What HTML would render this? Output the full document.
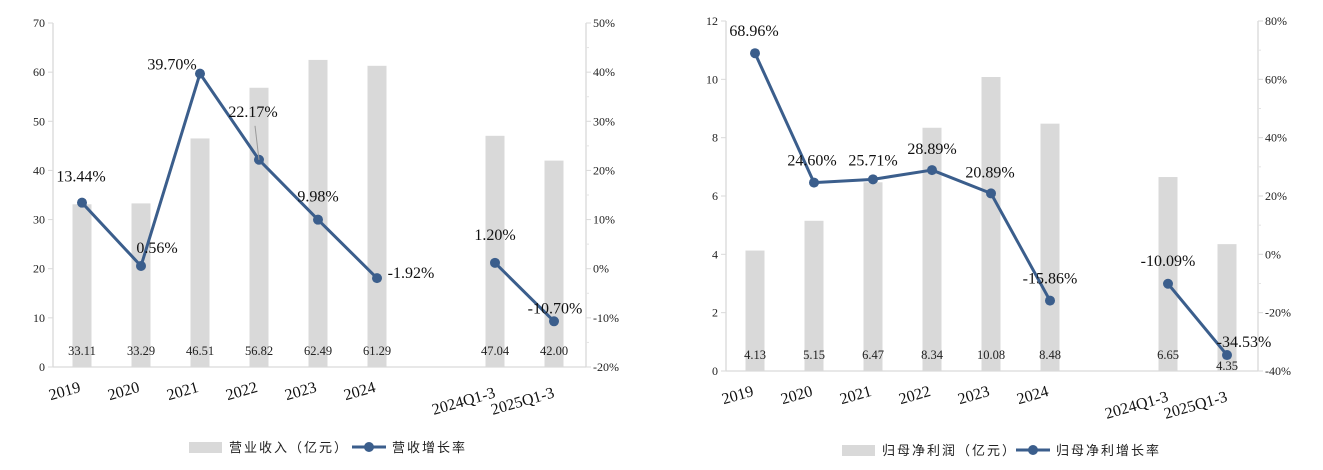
<!DOCTYPE html>
<html><head><meta charset="utf-8"><style>
body{margin:0;background:#fff;}
svg{display:block;font-family:"Liberation Serif","Noto Serif CJK SC",serif;}
</style></head><body>
<svg id="chart" width="1323" height="470" viewBox="0 0 1323 470"></svg>
<script>
const categories = ["2019","2020","2021","2022","2023","2024","2024Q1-3","2025Q1-3"];
const slotIndex = [0,1,2,3,4,5,7,8];
const revenue = [33.11,33.29,46.51,56.82,62.49,61.29,47.04,42.00];
const revenueGrowth = [13.44,0.56,39.70,22.17,9.98,-1.92,1.20,-10.70];
const profit = [4.13,5.15,6.47,8.34,10.08,8.48,6.65,4.35];
const profitGrowth = [68.96,24.60,25.71,28.89,20.89,-15.86,-10.09,-34.53];
const leftTicks1 = [0,10,20,30,40,50,60,70];
const rightTicks1 = [-20,-10,0,10,20,30,40,50];
const leftTicks2 = [0,2,4,6,8,10,12];
const rightTicks2 = [-40,-20,0,20,40,60,80];

const NS="http://www.w3.org/2000/svg";
const svg=document.getElementById('chart');
function mk(tag,attrs,parent,text){const e=document.createElementNS(NS,tag);for(const k in attrs)e.setAttribute(k,attrs[k]);if(text!==undefined)e.textContent=text;(parent||svg).appendChild(e);return e;}

function drawChart(cfg){
  const g=mk('g',{});
  
  
  const yL=v=>cfg.y0-(v-cfg.lMin)/(cfg.lMax-cfg.lMin)*(cfg.y0-cfg.y1);
  const yR=v=>cfg.y0-(v-cfg.rMin)/(cfg.rMax-cfg.rMin)*(cfg.y0-cfg.y1);
  const xS=i=>cfg.x0+slotIndex[i]*cfg.step;
  // axes
  const la=mk('line',{x1:cfg.ax,y1:cfg.y1,x2:cfg.ax,y2:cfg.y0,stroke:'#d9d9d9','stroke-width':1.3},g);
  
  const ra=mk('line',{x1:cfg.rx,y1:cfg.y1,x2:cfg.rx,y2:cfg.y0,stroke:'#d9d9d9','stroke-width':1.3},g);
  
  const xa=mk('line',{x1:cfg.ax,y1:cfg.y0,x2:cfg.rx,y2:cfg.y0,stroke:'#d9d9d9','stroke-width':1.3},g);
  
  cfg.lt.forEach(v=>{const y=yL(v);
    mk('line',{x1:cfg.ax-5,y1:y,x2:cfg.ax,y2:y,stroke:'#d9d9d9'},g);
    const t=mk('text',{x:cfg.ax-8,y:y+4,'font-size':12,'text-anchor':'end',fill:'#222'},g,String(v));
    });
  for(let k=0;k<cfg.rt.length;k++){const v=cfg.rt[k];const y=yR(v);
    mk('line',{x1:cfg.rx,y1:y,x2:cfg.rx+5,y2:y,stroke:'#d9d9d9'},g);
    if(k<cfg.rt.length-1){const ym=(y+yR(cfg.rt[k+1]))/2;mk('line',{x1:cfg.rx,y1:ym,x2:cfg.rx+3,y2:ym,stroke:'#e4e4e4'},g);}
    const t=mk('text',{x:cfg.rx+7,y:y+4,'font-size':12,fill:'#222'},g,v+'%');
    }
  // bars
  cfg.bars.forEach((v,i)=>{const x=xS(i);
    const b=mk('rect',{x:x-9.5,y:yL(v),width:19,height:cfg.y0-yL(v),fill:'#d9d9d9'},g);
    });
  // bar labels
  cfg.bars.forEach((v,i)=>{const x=xS(i);let y=cfg.barLabelY;
    if(cfg.lowIdx===i)y=cfg.barLabelLowY;
    const t=mk('text',{x:x,y:y,'font-size':12.5,'text-anchor':'middle',fill:'#222'},g,v.toFixed(2));
    });
  // x labels
  categories.forEach((c,i)=>{const x=xS(i);const long=c.length>4;
    const cx=x-(long?30:16), cy=cfg.y0+(long?39:29);
    const t=mk('text',{x:cx,y:cy,'font-size':16,'text-anchor':'middle',fill:'#111',transform:`rotate(-16 ${cx} ${cy})`},g,c);
    });
  // line
  const pts=cfg.line.map((v,i)=>xS(i)+','+yR(v));
  const p1=mk('polyline',{points:pts.slice(0,6).join(' '),fill:'none',stroke:'#3b5e8c','stroke-width':3,'stroke-linejoin':'round'},g);
  
  const p2=mk('polyline',{points:pts.slice(6).join(' '),fill:'none',stroke:'#3b5e8c','stroke-width':3},g);
  
  cfg.line.forEach((v,i)=>{const c=mk('circle',{cx:xS(i),cy:yR(v),r:5,fill:'#3b5e8c'},g);
    });
  cfg.line.forEach((v,i)=>{const o=cfg.off[i];
    const t=mk('text',{x:xS(i)+o[0],y:yR(v)+o[1],'font-size':16,'text-anchor':'middle',fill:'#111'},g,v.toFixed(2)+'%');
    });
  if(cfg.leader!==undefined){const i=cfg.leader;const x=xS(i),y=yR(cfg.line[i]);
    mk('line',{x1:x-4,y1:y-34,x2:x,y2:y,stroke:'#999','stroke-width':1},g);}
  // legend
  const lg=mk('g',{},g);
  mk('rect',{x:cfg.lgx,y:cfg.lgy-5,width:33,height:11,fill:'#d9d9d9'},lg);
  const t1=mk('text',{x:cfg.lgx+40,y:cfg.lgy+5,'font-size':13,fill:'#222','font-family':'"Noto Sans CJK SC",sans-serif','letter-spacing':2},lg,cfg.lg1);
  
  mk('line',{x1:cfg.lgx2,y1:cfg.lgy,x2:cfg.lgx2+34,y2:cfg.lgy,stroke:'#3b5e8c','stroke-width':3},lg);
  mk('circle',{cx:cfg.lgx2+17,cy:cfg.lgy,r:5,fill:'#3b5e8c'},lg);
  const t2=mk('text',{x:cfg.lgx2+40,y:cfg.lgy+5,'font-size':13,fill:'#222','font-family':'"Noto Sans CJK SC",sans-serif','letter-spacing':2},lg,cfg.lg2);
  
}

drawChart({name:'revenue-chart',ax:53,rx:586,x0:82,step:59,y0:367,y1:23,lMin:0,lMax:70,rMin:-20,rMax:50,
  lt:leftTicks1,rt:rightTicks1,bars:revenue,line:revenueGrowth,barLabelY:355,
  off:[[-1,-21],[16,-13],[-28,-4],[-6,-43],[0,-18],[34,0],[0,-23],[1,-8]],leader:3,
  lgx:189,lgy:447,lgx2:352,lg1:'营业收入（亿元）',lg2:'营收增长率'});
drawChart({name:'profit-chart',ax:726,rx:1258,x0:755,step:59,y0:371,y1:21,lMin:0,lMax:12,rMin:-40,rMax:80,
  lt:leftTicks2,rt:rightTicks2,bars:profit,line:profitGrowth,barLabelY:359,lowIdx:7,barLabelLowY:370,
  off:[[-1,-17],[-2,-17],[0,-14],[0,-16],[-1,-16],[0,-17],[0,-18],[17,-8]],
  lgx:842,lgy:450,lgx2:1016,lg1:'归母净利润（亿元）',lg2:'归母净利增长率'});
</script>
</body></html>
